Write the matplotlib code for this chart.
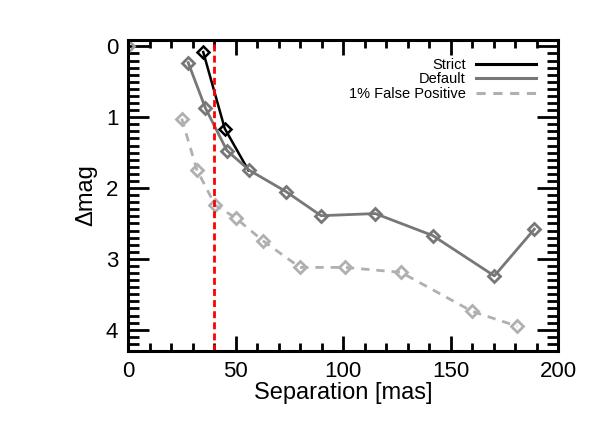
import matplotlib
matplotlib.use('Agg')
import matplotlib.pyplot as plt
from matplotlib.ticker import MultipleLocator

plt.rcParams['font.family'] = ['Liberation Sans', 'DejaVu Sans']

# contrast curves
strict_sep = [35, 45, 56]
strict_dmag = [0.08, 1.16, 1.75]

default_sep = [28, 36, 46, 56.5, 73.5, 89.8, 115, 141.7, 170.4, 189]
default_dmag = [0.23, 0.87, 1.47, 1.75, 2.05, 2.39, 2.36, 2.67, 3.24, 2.58]

fp_sep = [25, 32, 40.5, 50, 63, 80, 101, 127, 160, 181]
fp_dmag = [1.02, 1.74, 2.24, 2.42, 2.75, 3.12, 3.12, 3.19, 3.74, 3.95]

origin_sep = [0]
origin_dmag = [0]

inner_working_angle = 40

fig = plt.figure(figsize=(5.98, 4.32), dpi=100)
ax = fig.add_axes([128 / 598, 1 - 351 / 432, 430 / 598, 311 / 432])

ax.plot(fp_sep, fp_dmag, '--', color='#b0b0b0', lw=2, dashes=(3, 2.5),
        marker='D', ms=6, mfc='none', mew=2, label='1% False Positive')
ax.plot(strict_sep, strict_dmag, '-', color='black', lw=1.8,
        marker='D', ms=6, mfc='none', mew=1.8, label='Strict', markevery=[0, 1])
ax.plot(default_sep, default_dmag, '-', color='#777777', lw=2,
        marker='D', ms=6, mfc='none', mew=2, label='Default')
ax.plot(origin_sep, origin_dmag, 'D', color='#999999', ms=6, mfc='none', mew=2)

ax.axvline(inner_working_angle, color='red', ls='--', lw=2, dashes=(2.5, 1.5))

ax.set_xlim(0, 200)
ax.set_ylim(4.3, -0.09)
ax.xaxis.set_major_locator(MultipleLocator(50))
ax.xaxis.set_minor_locator(MultipleLocator(10))
ax.yaxis.set_major_locator(MultipleLocator(1))
ax.yaxis.set_minor_locator(MultipleLocator(0.1))
ax.tick_params(which='both', direction='in', top=True, right=True,
               width=2, labelsize=16, pad=7)
ax.tick_params(axis='x', which='major', length=11)
ax.tick_params(axis='x', which='minor', length=6)
ax.tick_params(axis='y', which='major', length=15)
ax.tick_params(axis='y', which='minor', length=8)
for s in ax.spines.values():
    s.set_linewidth(2.2)

ax.set_xlabel('Separation [mas]', fontsize=17, labelpad=0)
ax.set_ylabel('Δmag', fontsize=17, labelpad=6)

handles, labels = ax.get_legend_handles_labels()
order = [1, 2, 0]
leg = ax.legend([handles[i] for i in order], [labels[i] for i in order],
                loc='upper right', bbox_to_anchor=(1 - 6 / 430, 1 - 2 / 311),
                frameon=False, markerfirst=False,
                fontsize=10.5, handlelength=4.1, labelspacing=0.02,
                borderaxespad=0.7, handletextpad=0.7)
for h in leg.legend_handles:
    h.set_marker('')
    h.set_linewidth(2.2)

fig.savefig('out.png', dpi=100)
